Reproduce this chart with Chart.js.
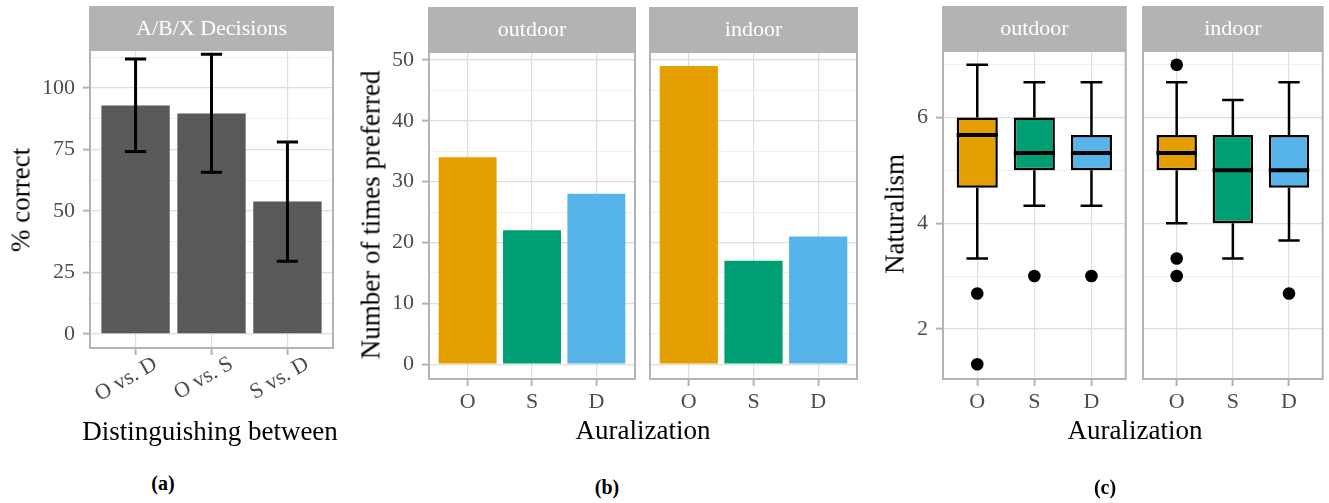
<!DOCTYPE html>
<html>
<head>
<meta charset="utf-8">
<script src="https://cdn.jsdelivr.net/npm/chart.js@4/dist/chart.umd.min.js"></script>
<style>
  body { margin: 0; background: #fff; width: 1329px; height: 503px; position: relative; overflow: hidden; font-family: 'Liberation Serif', 'Times New Roman', serif; }
  canvas { position: absolute; top: 0; }
  .t { position: absolute; white-space: nowrap; color: #000; font-size: 27px; line-height: 1; transform: translate(-50%, -50%); }
  .rot { transform: translate(-50%, -50%) rotate(-90deg); }
  .cap { position: absolute; white-space: nowrap; font-weight: bold; font-size: 20px; line-height: 1; transform: translate(-50%, -50%); }
</style>
</head>
<body>
<canvas id="abx"></canvas>
<canvas id="prefOut"></canvas>
<canvas id="prefIn"></canvas>
<canvas id="natOut"></canvas>
<canvas id="natIn"></canvas>

<div class="t rot" style="left:21px; top:200px">% correct</div>
<div class="t" style="left:210px; top:431px">Distinguishing between</div>
<div class="t rot" style="left:371px; top:215px">Number of times preferred</div>
<div class="t" style="left:643px; top:430px">Auralization</div>
<div class="t rot" style="left:895px; top:214px">Naturalism</div>
<div class="t" style="left:1135px; top:430px">Auralization</div>
<div class="cap" style="left:163px; top:483px">(a)</div>
<div class="cap" style="left:607px; top:487px">(b)</div>
<div class="cap" style="left:1105px; top:487px">(c)</div>

<script>
// (a) A/B/X decisions
const abxCategories = ['O vs. D', 'O vs. S', 'S vs. D'];
const abxCorrect = [92.8, 89.6, 53.8];
const abxLow = [74.2, 65.7, 29.6];
const abxHigh = [111.7, 113.7, 78.0];
const abxTickLabels = [0, 25, 50, 75, 100];
const abxGrid = [0, 12.5, 25, 37.5, 50, 62.5, 75, 87.5, 100, 112.5];

// (b) preference counts
const aurals = ['O', 'S', 'D'];
const auralColors = ['#E69F00', '#009E73', '#56B4E9'];
const prefOutdoor = [34, 22, 28];
const prefIndoor = [49, 17, 21];
const prefTickLabels = [0, 10, 20, 30, 40, 50];
const prefGrid = [0, 5, 10, 15, 20, 25, 30, 35, 40, 45, 50];

// (c) naturalism ratings, box stats per auralization
const natOutdoorMin = [3.33, 4.33, 4.33];
const natOutdoorQ1 = [4.67, 5, 5];
const natOutdoorMed = [5.67, 5.33, 5.33];
const natOutdoorQ3 = [6, 6, 5.67];
const natOutdoorMax = [7, 6.67, 6.67];
const natOutdoorOutliers = [[2.67, 1.33], [3], [3]];
const natIndoorMin = [4, 3.33, 3.67];
const natIndoorQ1 = [5, 4, 4.67];
const natIndoorMed = [5.33, 5, 5];
const natIndoorQ3 = [5.67, 5.67, 5.67];
const natIndoorMax = [6.67, 6.33, 6.67];
const natIndoorOutliers = [[7, 3.33, 3], [], [2.67]];
const natTickLabels = [2, 4, 6];
const natGrid = [2, 3, 4, 5, 6, 7];

Chart.defaults.font.family = "'Liberation Serif', 'Times New Roman', serif";

// strip on top + grey panel border, like theme_light
function framePlugin(label, stripTop) {
  return {
    id: 'frame',
    afterDraw(chart) {
      const { ctx, chartArea: a } = chart;
      ctx.save();
      ctx.fillStyle = '#b3b3b3';
      ctx.fillRect(a.left - 1, stripTop, a.right - a.left + 2, a.top - stripTop);
      ctx.strokeStyle = '#b3b3b3';
      ctx.lineWidth = 2;
      ctx.strokeRect(a.left, a.top, a.right - a.left, a.bottom - a.top);
      ctx.fillStyle = '#fff';
      ctx.font = "22px 'Liberation Serif'";
      ctx.textAlign = 'center';
      ctx.textBaseline = 'middle';
      ctx.fillText(label, (a.left + a.right) / 2, (stripTop + a.top) / 2 + 1);
      ctx.restore();
    }
  };
}

const errorBarPlugin = {
  id: 'errbars',
  afterDatasetsDraw(chart) {
    const { ctx, scales: { x, y } } = chart;
    const half = x.getPixelForValue(1.14) - x.getPixelForValue(1);
    ctx.save();
    ctx.strokeStyle = '#000';
    ctx.lineWidth = 3;
    abxLow.forEach((lo, i) => {
      const px = x.getPixelForValue(i + 1);
      const y0 = y.getPixelForValue(lo), y1 = y.getPixelForValue(abxHigh[i]);
      ctx.beginPath();
      ctx.moveTo(px, y0); ctx.lineTo(px, y1);
      ctx.moveTo(px - half, y0); ctx.lineTo(px + half, y0);
      ctx.moveTo(px - half, y1); ctx.lineTo(px + half, y1);
      ctx.stroke();
    });
    ctx.restore();
  }
};

function whiskerPlugin(mins, q1s, meds, q3s, maxs) {
  return {
    id: 'whiskers',
    afterDatasetsDraw(chart) {
      const { ctx, scales: { x, y } } = chart;
      const unit = x.getPixelForValue(2) - x.getPixelForValue(1);
      ctx.save();
      ctx.strokeStyle = '#000';
      mins.forEach((lo, i) => {
        const px = x.getPixelForValue(i + 1);
        const cap = unit * 0.19, box = unit * 0.36;
        ctx.lineWidth = 2.5;
        ctx.beginPath();
        ctx.moveTo(px, y.getPixelForValue(q3s[i])); ctx.lineTo(px, y.getPixelForValue(maxs[i]));
        ctx.moveTo(px, y.getPixelForValue(q1s[i])); ctx.lineTo(px, y.getPixelForValue(lo));
        ctx.moveTo(px - cap, y.getPixelForValue(maxs[i])); ctx.lineTo(px + cap, y.getPixelForValue(maxs[i]));
        ctx.moveTo(px - cap, y.getPixelForValue(lo)); ctx.lineTo(px + cap, y.getPixelForValue(lo));
        ctx.stroke();
        ctx.lineWidth = 4;
        ctx.beginPath();
        ctx.moveTo(px - box, y.getPixelForValue(meds[i])); ctx.lineTo(px + box, y.getPixelForValue(meds[i]));
        ctx.stroke();
      });
      ctx.restore();
    }
  };
}

// g: canvas left/width/height and plot-area edges in page pixels
function facet(id, g, cfg) {
  const canvas = document.getElementById(id);
  canvas.style.left = g.L + 'px';
  canvas.width = g.W;
  canvas.height = g.H;
  const showY = cfg.showY;
  const isMajor = v => cfg.yLabels.includes(v);
  return new Chart(canvas, {
    type: 'bar',
    data: { datasets: cfg.datasets },
    options: {
      responsive: false,
      animation: false,
      layout: { padding: { left: showY ? 0 : g.CL - g.L, right: g.L + g.W - g.CR, top: g.CT, bottom: 0 } },
      plugins: { legend: { display: false }, tooltip: { enabled: false } },
      scales: {
        x: {
          type: 'linear', min: 0.4, max: 3.6, offset: false,
          afterBuildTicks: s => { s.ticks = cfg.xLabels.map((_, i) => ({ value: i + 1 })); },
          afterFit: s => { s.height = g.H - g.CB; },
          ticks: {
            autoSkip: false, color: '#4d4d4d', font: { size: 22 },
            padding: cfg.xPad, minRotation: cfg.rot, maxRotation: cfg.rot, labelOffset: cfg.labelOffset,
            callback: v => cfg.xLabels[v - 1]
          },
          grid: { offset: false, color: '#dedede', lineWidth: 1.2, tickLength: 7, tickColor: '#b3b3b3', tickWidth: 2 },
          border: { display: false }
        },
        y: {
          min: cfg.yMin, max: cfg.yMax,
          afterBuildTicks: s => { s.ticks = cfg.yGrid.map(v => ({ value: v })); },
          afterFit: s => { s.width = showY ? g.CL - g.L : 0; },
          ticks: {
            display: showY, autoSkip: false, color: '#4d4d4d', font: { size: 22 }, padding: 8,
            callback: v => isMajor(v) ? String(v) : ''
          },
          grid: {
            drawTicks: showY, tickLength: 7, tickWidth: 2,
            color: c => (c.tick && isMajor(c.tick.value)) ? '#dedede' : '#ebebeb',
            lineWidth: c => (c.tick && isMajor(c.tick.value)) ? 1.2 : 0.8,
            tickColor: c => (c.tick && isMajor(c.tick.value)) ? '#b3b3b3' : 'rgba(0,0,0,0)'
          },
          border: { display: false }
        }
      }
    },
    plugins: [framePlugin(cfg.strip, g.stripTop)].concat(cfg.extra || [])
  });
}

const toPoints = vals => vals.map((v, i) => ({ x: i + 1, y: v }));
const toBoxes = (q1, q3) => q1.map((v, i) => ({ x: i + 1, y: [v, q3[i]] }));
const toOutliers = list => list.flatMap((vals, i) => vals.map(v => ({ x: i + 1, y: v })));

facet('abx', { L: 0, W: 340, H: 420, CL: 90, CR: 333, CT: 50, CB: 348, stripTop: 6 }, {
  strip: 'A/B/X Decisions', showY: true, xLabels: abxCategories, rot: 30, labelOffset: 20, xPad: -4,
  yMin: -5.7, yMax: 115.4, yLabels: abxTickLabels, yGrid: abxGrid,
  datasets: [{ data: toPoints(abxCorrect), backgroundColor: '#595959', barPercentage: 0.9, categoryPercentage: 1 }],
  extra: [errorBarPlugin]
});

const prefCfg = { showY: true, xLabels: aurals, rot: 0, labelOffset: 0, xPad: 3, yMin: -2.43, yMax: 51.3, yLabels: prefTickLabels, yGrid: prefGrid };
facet('prefOut', { L: 340, W: 300, H: 420, CL: 429, CR: 635, CT: 52, CB: 379, stripTop: 7 }, Object.assign({}, prefCfg, {
  strip: 'outdoor',
  datasets: [{ data: toPoints(prefOutdoor), backgroundColor: auralColors, barPercentage: 0.9, categoryPercentage: 1 }]
}));
facet('prefIn', { L: 642, W: 218, H: 420, CL: 650, CR: 857, CT: 52, CB: 379, stripTop: 7 }, Object.assign({}, prefCfg, {
  strip: 'indoor', showY: false,
  datasets: [{ data: toPoints(prefIndoor), backgroundColor: auralColors, barPercentage: 0.9, categoryPercentage: 1 }]
}));

const natCfg = { showY: true, xLabels: aurals, rot: 0, labelOffset: 0, xPad: 3, yMin: 1.05, yMax: 7.26, yLabels: natTickLabels, yGrid: natGrid };
function natSets(q1, q3, outliers) {
  return [
    { data: toBoxes(q1, q3), backgroundColor: auralColors, borderColor: '#000', borderWidth: 2.5, borderSkipped: false, barPercentage: 0.72, categoryPercentage: 1 },
    { type: 'scatter', data: toOutliers(outliers), pointBackgroundColor: '#000', pointBorderWidth: 0, pointRadius: 6.3, showLine: false }
  ];
}
facet('natOut', { L: 860, W: 272, H: 420, CL: 943, CR: 1127, CT: 51, CB: 379, stripTop: 6 }, Object.assign({}, natCfg, {
  strip: 'outdoor',
  datasets: natSets(natOutdoorQ1, natOutdoorQ3, natOutdoorOutliers),
  extra: [whiskerPlugin(natOutdoorMin, natOutdoorQ1, natOutdoorMed, natOutdoorQ3, natOutdoorMax)]
}));
facet('natIn', { L: 1134, W: 195, H: 420, CL: 1143, CR: 1327, CT: 51, CB: 379, stripTop: 6 }, Object.assign({}, natCfg, {
  strip: 'indoor', showY: false,
  datasets: natSets(natIndoorQ1, natIndoorQ3, natIndoorOutliers),
  extra: [whiskerPlugin(natIndoorMin, natIndoorQ1, natIndoorMed, natIndoorQ3, natIndoorMax)]
}));
</script>
</body>
</html>
